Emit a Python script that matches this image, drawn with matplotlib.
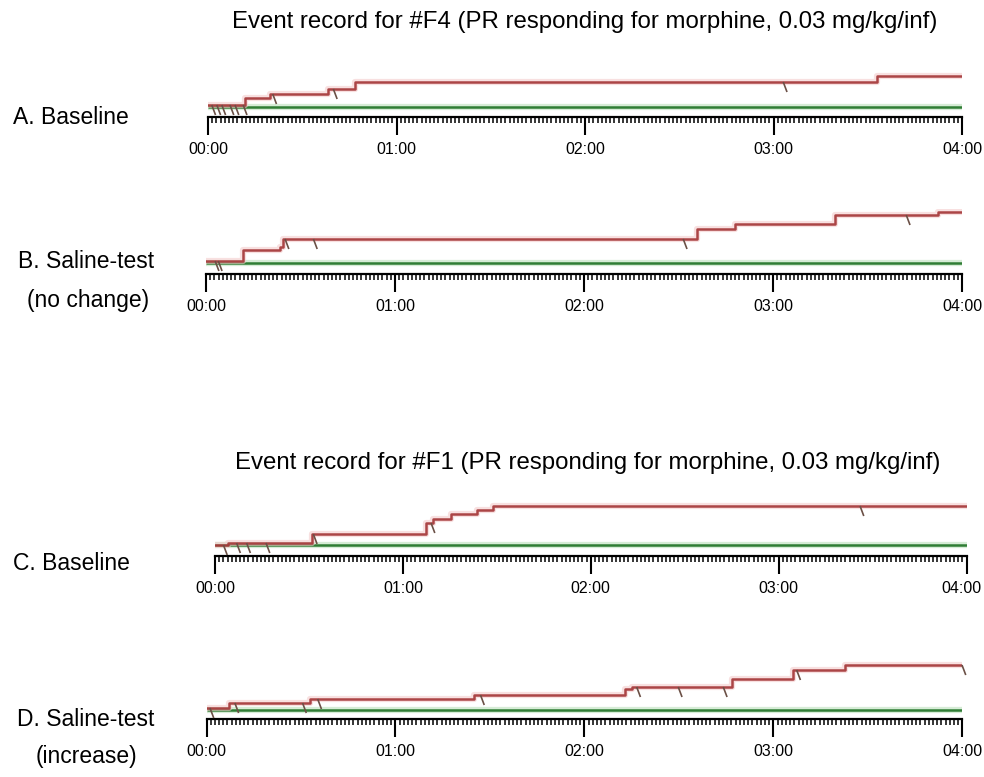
import numpy as np
import matplotlib
matplotlib.use("Agg")
import matplotlib.pyplot as plt
import matplotlib.transforms as mtransforms
from matplotlib.ticker import MultipleLocator
from matplotlib.collections import LineCollection

plt.rcParams['font.family'] = ['Liberation Sans', 'DejaVu Sans']

# ---------------- data (time in minutes, cumulative level in arbitrary units) -------------
title_top = "Event record for #F4 (PR responding for morphine, 0.03 mg/kg/inf)"
title_bottom = "Event record for #F1 (PR responding for morphine, 0.03 mg/kg/inf)"

labels_a = ["A. Baseline"]
labels_b = ["B. Saline-test", "(no change)"]
labels_c = ["C. Baseline"]
labels_d = ["D. Saline-test", "(increase)"]

a_step_times = [0, 11.8, 19.7, 38.2, 46.8, 213.0]
a_levels = [2, 9, 13, 18, 25, 31]
a_infusions = [1.2, 2.8, 4.4, 7.0, 8.6, 11.2, 20.6, 39.9, 183.1]

b_step_times = [0, 11.6, 23.5, 24.5, 155.8, 168.0, 199.7, 232.5]
b_levels = [2, 13, 16, 24, 34, 39, 48, 51]
b_infusions = [2.9, 3.9, 25.1, 34.1, 151.5, 222.3]

c_step_times = [0, 4.2, 30.9, 67.4, 69.7, 75.3, 83.6, 88.9]
c_levels = [0, 2, 11, 22, 26, 31, 35, 39]
c_infusions = [2.7, 6.9, 10.1, 16.3, 31.4, 69.0, 206.0]

d_step_times = [0, 7.2, 32.8, 84.9, 132.9, 135.0, 166.8, 186.3, 202.7]
d_levels = [2, 7, 11, 15, 21, 23, 31, 40, 45]
d_infusions = [1.1, 9.0, 30.5, 35.3, 87.0, 136.6, 149.8, 164.1, 187.4, 239.9]

session_end = 240
hour_ticks = [0, 60, 120, 180, 240]
hour_labels = ["00:00", "01:00", "02:00", "03:00", "04:00"]

# ---------------- figure ----------------
W, H = 984, 777
fig = plt.figure(figsize=(W / 100, H / 100), dpi=100)
fig.patch.set_facecolor("white")

RED = "#9e2a2b"
RED_HALO = "#f4cccc"
GREEN = "#2f7d34"
GREEN_HALO = "#d6ecd6"
MARK = "#6b5046"


def px_axes(left, right, bottom, height):
    return fig.add_axes([left / W, (H - bottom) / H, (right - left) / W, height / H])


def draw_panel(ax, step_times, levels, infusions, ylo, yhi):
    t = list(step_times) + [session_end]
    lv = list(levels) + [levels[-1]]
    ax.set_xlim(0, session_end)
    ax.set_ylim(ylo, yhi)
    # baseline (green pen)
    ax.plot([0, session_end], [0, 0], color=GREEN_HALO, lw=4.5, solid_capstyle="butt", zorder=1)
    ax.plot([0, session_end], [0, 0], color=GREEN, lw=1.8, solid_capstyle="butt", zorder=2)
    # cumulative record (red pen)
    ax.step(t, lv, where="post", color=RED_HALO, lw=4.5, zorder=3, alpha=0.6)
    ax.step(t, lv, where="post", color=RED, lw=1.8, zorder=4, alpha=0.85)
    # infusion deflections
    st = np.array(step_times)
    lvl = np.array(levels)
    segs = []
    for ti in infusions:
        L = lvl[np.searchsorted(st, ti, side="right") - 1]
        segs.append([(ti, L), (ti + 1.2, L - 10)])
    ax.add_collection(LineCollection(segs, colors=MARK, linewidths=1.2, zorder=5, clip_on=False))
    # axis styling
    for s in ["top", "right", "left"]:
        ax.spines[s].set_visible(False)
    ax.spines["bottom"].set_linewidth(1.6)
    ax.spines["bottom"].set_color("black")
    ax.set_yticks([])
    ax.xaxis.set_minor_locator(MultipleLocator(4 / 3))
    ax.set_xticks(hour_ticks)
    ax.set_xticklabels(hour_labels)
    ax.tick_params(axis="x", which="major", length=13, width=1.5, direction="out",
                   pad=5, labelsize=11.5, colors="black")
    ax.tick_params(axis="x", which="minor", length=4.5, width=1.1, direction="out")
    ax.patch.set_alpha(0)


axA = px_axes(208, 962, 117, 50)
draw_panel(axA, a_step_times, a_levels, a_infusions, -10, 40)

axB = px_axes(206, 962, 274, 65)
draw_panel(axB, b_step_times, b_levels, b_infusions, -11, 54)

axC = px_axes(215, 966.5, 556, 60)
draw_panel(axC, c_step_times, c_levels, c_infusions, -11, 49)

axD = px_axes(206.5, 962.3, 719, 65)
draw_panel(axD, d_step_times, d_levels, d_infusions, -9, 56)

# keep the last label of panel C inside the image (nudged a few pixels left)
lastC = axC.get_xticklabels()[-1]
lastC.set_transform(lastC.get_transform() +
                    mtransforms.ScaledTranslation(-5 / 100, 0, fig.dpi_scale_trans))

# titles
fig.text(585 / W, 1 - 22 / H, title_top, ha="center", va="center", fontsize=17.3)
fig.text(588 / W, 1 - 463 / H, title_bottom, ha="center", va="center", fontsize=17.3)

# panel labels
fig.text(13 / W, 1 - 118 / H, labels_a[0], ha="left", va="center", fontsize=16.5)
fig.text(86 / W, 1 - 262 / H, labels_b[0], ha="center", va="center", fontsize=16.5)
fig.text(88 / W, 1 - 300 / H, labels_b[1], ha="center", va="center", fontsize=16.5)
fig.text(13 / W, 1 - 563 / H, labels_c[0], ha="left", va="center", fontsize=16.5)
fig.text(86 / W, 1 - 720 / H, labels_d[0], ha="center", va="center", fontsize=16.5)
fig.text(86 / W, 1 - 757 / H, labels_d[1], ha="center", va="center", fontsize=16.5)

fig.savefig("out.png", dpi=100, facecolor="white")
